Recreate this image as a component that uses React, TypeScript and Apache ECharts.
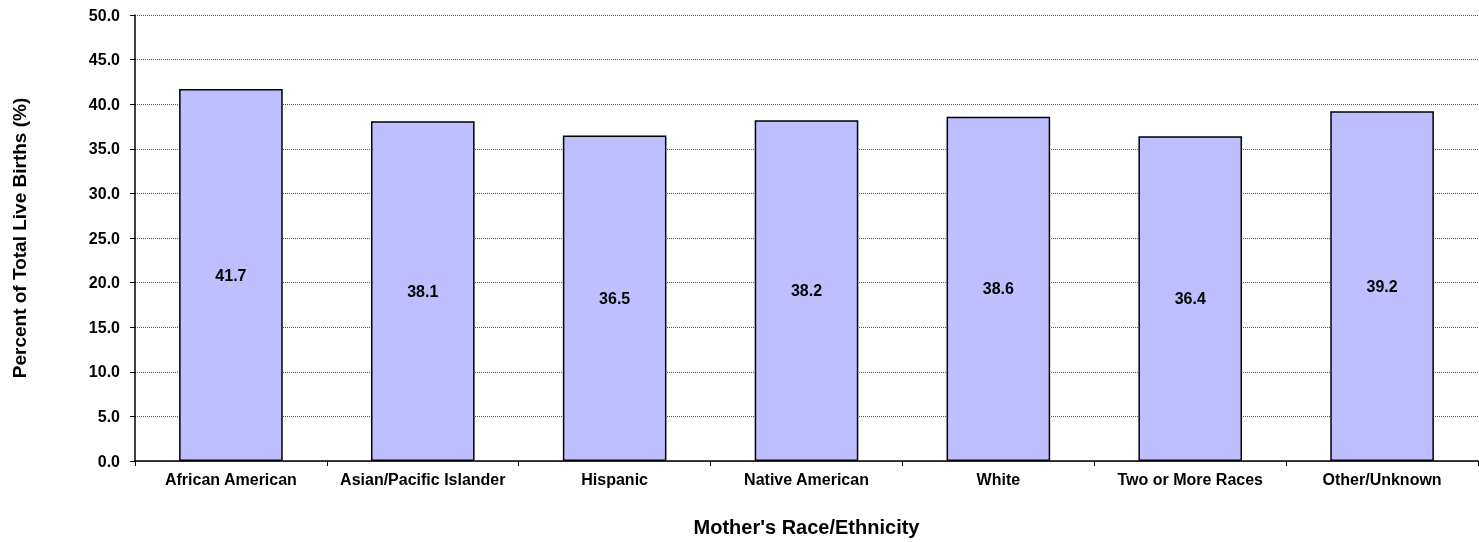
import React, { useEffect, useRef } from "react";
import * as echarts from "echarts";

const categories = [
  "African American",
  "Asian/Pacific Islander",
  "Hispanic",
  "Native American",
  "White",
  "Two or More Races",
  "Other/Unknown",
];
const values = [41.7, 38.1, 36.5, 38.2, 38.6, 36.4, 39.2];
const yTicks = { min: 0, max: 50, interval: 5 };

export default function App() {
  const ref = useRef<HTMLDivElement>(null);
  useEffect(() => {
    if (!ref.current) return;
    const chart = echarts.init(ref.current, undefined, { renderer: "svg" });
    const font = "Liberation Sans, Arial, sans-serif";
    chart.setOption({
      animation: false,
      grid: { left: 135, right: 1, top: 15, bottom: 78 },
      xAxis: {
        type: "category",
        data: categories,
        name: "Mother's Race/Ethnicity",
        nameLocation: "middle",
        nameGap: 56,
        nameTextStyle: { fontFamily: font, fontWeight: "bold", fontSize: 20, color: "#000" },
        axisLine: { lineStyle: { color: "#000", width: 1.5 } },
        axisTick: { show: true, length: 5, lineStyle: { color: "#000" } },
        axisLabel: { fontFamily: font, fontWeight: "bold", fontSize: 16, color: "#000", margin: 10, interval: 0 },
      },
      yAxis: {
        type: "value",
        min: yTicks.min,
        max: yTicks.max,
        interval: yTicks.interval,
        name: "Percent of Total Live Births (%)",
        nameLocation: "middle",
        nameGap: 106,
        nameTextStyle: { fontFamily: font, fontWeight: "bold", fontSize: 19, color: "#000" },
        axisLine: { show: true, lineStyle: { color: "#000", width: 1.5 } },
        axisTick: { show: true, length: 5, lineStyle: { color: "#000" } },
        axisLabel: {
          fontFamily: font,
          fontWeight: "bold",
          fontSize: 16,
          color: "#000",
          margin: 15,
          formatter: (v: number) => v.toFixed(1),
        },
        splitLine: { show: true, lineStyle: { color: "#555", type: [1, 1], width: 1 } },
      },
      series: [
        {
          type: "bar",
          data: values,
          barCategoryGap: "46%",
          itemStyle: { color: "#BFBFFF", borderColor: "#000", borderWidth: 1.5 },
          label: {
            show: true,
            position: "inside",
            fontFamily: font,
            fontWeight: "bold",
            fontSize: 16,
            color: "#000",
            formatter: (p: any) => p.value.toFixed(1),
          },
        },
      ],
    });
    return () => chart.dispose();
  }, []);
  return (
    <div
      ref={ref}
      style={{ position: "fixed", left: 0, top: 0, width: 1479, height: 542, overflow: "hidden" }}
    />
  );
}
